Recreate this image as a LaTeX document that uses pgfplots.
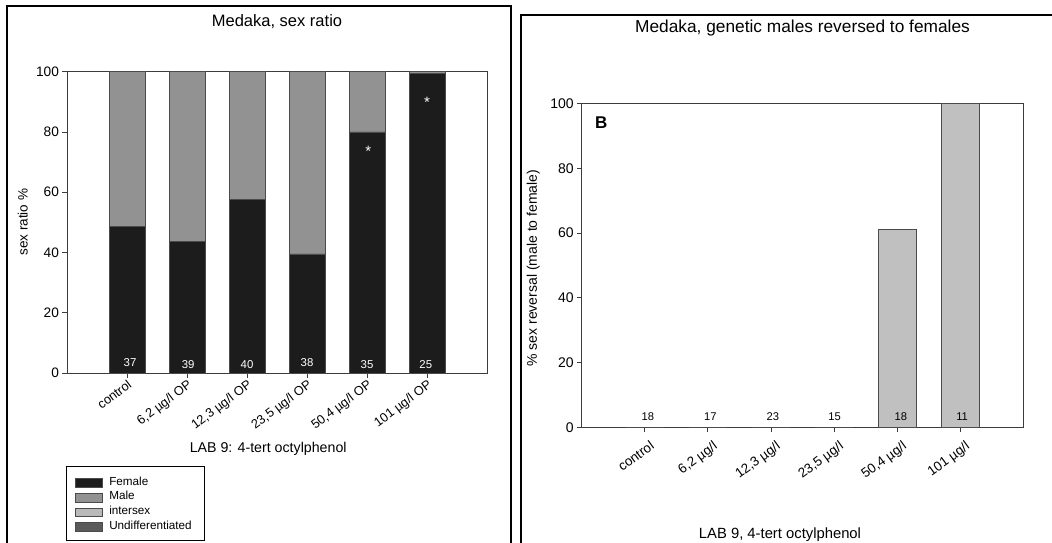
\documentclass[border=0pt]{standalone}
\usepackage{fontspec}
\setmainfont{Liberation Sans}
\usepackage{pgfplots}
\pgfplotsset{compat=1.18}
\definecolor{fem}{RGB}{28,28,28}
\definecolor{male}{RGB}{146,146,146}
\definecolor{inter}{RGB}{185,185,185}
\definecolor{undiff}{RGB}{90,90,90}
\definecolor{rev}{RGB}{192,192,192}
\definecolor{edge}{RGB}{75,75,75}
\definecolor{axcol}{RGB}{60,60,60}
\tikzset{wn/.style={text=white, font=\fontsize{11.4bp}{13bp}\selectfont},
         bn/.style={text=black, font=\fontsize{11.2bp}{13bp}\selectfont}}
\pgfplotsset{
  common/.style={
    scale only axis, anchor=south west,
    xmin=-1, xmax=6, ymin=0, ymax=100,
    xtick={0,1,2,3,4,5}, ytick={0,20,40,60,80,100},
    tick align=outside, tick pos=left, major tick length=4.5bp,
    axis line style={axcol, line width=0.9bp},
    major tick style={axcol, line width=0.9bp},
    /pgf/number format/assume math mode=true,
    bar width=0.6,
  },
}
\begin{document}
\begin{tikzpicture}
\path[use as bounding box] (0,0) rectangle (1052bp,-543bp);
\draw[line width=2bp] (7bp,-6bp) rectangle (511bp,-600bp);
\draw[line width=2bp] (521bp,-15bp) rectangle (1100bp,-600bp);
\draw[line width=0.9bp] (66bp,-466.7bp) rectangle (204bp,-540.7bp);

% Left panel
\begin{axis}[common,
  at={(67bp,-373bp)}, width=420bp, height=301.3bp,
  ybar stacked,
  legend image code/.code={\draw[#1,draw=edge,line width=0.8bp] (0bp,-4.3bp) rectangle (26.7bp,4.3bp); \path (33.3bp,0bp);},
  yticklabel style={font=\fontsize{13.7bp}{16bp}\selectfont},
  xticklabels={control,{6,2 µg/l OP},{12,3 µg/l OP},{23,5 µg/l OP},{50,4 µg/l OP},{101 µg/l OP}},
  xticklabel style={rotate=37, anchor=north east, inner sep=1bp, font=\fontsize{12.8bp}{15bp}\selectfont},
  title={Medaka, sex ratio},
  title style={at={(axis description cs:0.5,1.148)}, anchor=center, font=\fontsize{16.5bp}{19bp}\selectfont},
  ylabel={sex ratio \%},
  ylabel style={at={(axis description cs:-0.105,0.5)}, anchor=center, font=\fontsize{13.5bp}{16bp}\selectfont},
  xlabel={LAB 9: 4-tert octylphenol},
  xlabel style={at={(axis description cs:0.479,-0.252)}, anchor=center, font=\fontsize{14.2bp}{17bp}\selectfont},
  legend style={at={(axis description cs:0.019,-0.34)}, anchor=north west, draw=none, fill=none,
    inner sep=0pt, row sep=0pt, font=\fontsize{11.7bp}{14bp}\selectfont,
    nodes={inner sep=0pt, text height=9.5bp, text depth=5.2bp}},
  legend cell align=left,
]
\addplot[fill=fem, draw=edge, line width=0.8bp] coordinates {(0,48.6) (1,43.6) (2,57.5) (3,39.5) (4,80) (5,99.5)};
\addlegendentry{Female}
\addplot[fill=male, draw=edge, line width=0.8bp] coordinates {(0,51.4) (1,56.4) (2,42.5) (3,60.5) (4,20) (5,0.5)};
\addlegendentry{Male}
\addplot[fill=inter, draw=none] coordinates {(0,0) (1,0) (2,0) (3,0) (4,0) (5,0)};
\addlegendentry{intersex}
\addplot[fill=undiff, draw=none] coordinates {(0,0) (1,0) (2,0) (3,0) (4,0) (5,0)};
\addlegendentry{Undifferentiated}
\end{axis}
% overlay for labels inside the left bars
\begin{axis}[common, hide axis,
  at={(67bp,-373bp)}, width=420bp, height=301.3bp]
\node[wn] at (axis cs:0.05,3.3) {37};
\node[wn] at (axis cs:1.02,2.65) {39};
\node[wn] at (axis cs:2,2.65) {40};
\node[wn] at (axis cs:3,3.4) {38};
\node[wn] at (axis cs:4,2.65) {35};
\node[wn] at (axis cs:4.98,2.65) {25};
\node[wn, font=\fontsize{15bp}{17bp}\selectfont] at (axis cs:4.02,73.6) {*};
\node[wn, font=\fontsize{15bp}{17bp}\selectfont] at (axis cs:5,89.9) {*};
\end{axis}

% Right panel
\begin{axis}[common,
  at={(581.7bp,-427.7bp)}, width=441.6bp, height=324.4bp,
  ybar,
  yticklabel style={font=\fontsize{14bp}{16bp}\selectfont},
  xticklabels={control,{6,2 µg/l},{12,3 µg/l},{23,5 µg/l},{50,4 µg/l},{101 µg/l}},
  xticklabel style={rotate=36, anchor=north east, inner sep=1bp, yshift=-8bp, font=\fontsize{13.4bp}{15bp}\selectfont},
  title={Medaka, genetic males reversed to females},
  title style={at={(axis description cs:0.5,1.213)}, anchor=center, font=\fontsize{17.3bp}{20bp}\selectfont},
  ylabel={\% sex reversal (male to female)},
  ylabel style={at={(axis description cs:-0.110,0.492)}, anchor=center, font=\fontsize{14bp}{16bp}\selectfont},
  xlabel={LAB 9, 4-tert octylphenol},
  xlabel style={at={(axis description cs:0.449,-0.33)}, anchor=center, font=\fontsize{14.8bp}{17bp}\selectfont},
]
\addplot[fill=rev, draw=edge, line width=0.8bp] coordinates {(0,0) (1,0) (2,0) (3,0) (4,61.1) (5,100)};
\node[bn] at (axis cs:0.05,3.4) {18};
\node[bn] at (axis cs:1.04,3.4) {17};
\node[bn] at (axis cs:2.03,3.4) {23};
\node[bn] at (axis cs:3.01,3.4) {15};
\node[bn] at (axis cs:4.06,3.4) {18};
\node[bn] at (axis cs:5.03,3.4) {11};
\node[font=\bfseries\fontsize{17bp}{20bp}\selectfont] at (axis cs:-0.69,93.9) {B};
\end{axis}
\end{tikzpicture}
\end{document}
